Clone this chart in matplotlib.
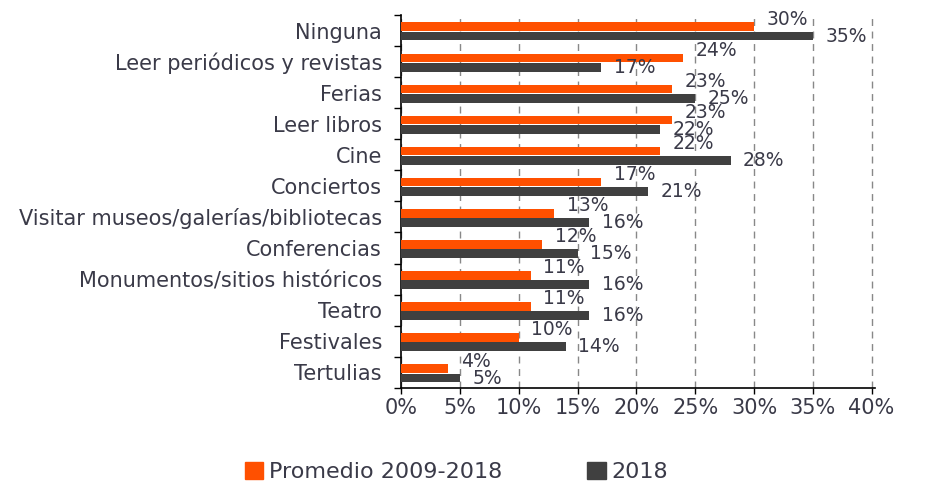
import numpy as np
import matplotlib
matplotlib.use("Agg")
import matplotlib.pyplot as plt
from matplotlib.patches import Patch

plt.rcParams['font.family'] = ['DejaVu Sans']

categorias = ["Ninguna", "Leer periódicos y revistas", "Ferias", "Leer libros", "Cine",
              "Conciertos", "Visitar museos/galerías/bibliotecas", "Conferencias",
              "Monumentos/sitios históricos", "Teatro", "Festivales", "Tertulias"]
promedio = [30, 24, 23, 23, 22, 17, 13, 12, 11, 11, 10, 4]
anio_2018 = [35, 17, 25, 22, 28, 21, 16, 15, 16, 16, 14, 5]
xticks = [0, 5, 10, 15, 20, 25, 30, 35, 40]

naranja = "#FF5000"
gris = "#404040"
texto = "#3a3a48"

fig = plt.figure(figsize=(9.29, 4.83), dpi=100)
ax = fig.add_axes([0.432, 0.197, 0.51, 0.772])

n = len(categorias)
y = np.arange(n)
h = 0.28
ax.barh(y - h / 2 + 0.02, promedio, height=h, color=naranja, zorder=3)
ax.barh(y + h / 2 + 0.04, anio_2018, height=h, color=gris, zorder=3)

for i in range(n):
    ax.annotate(f"{promedio[i]}%", (promedio[i], y[i] - h / 2), xytext=(9, 5),
                textcoords="offset points", va="center", ha="left",
                fontsize=13.5, color=texto, zorder=4)
    ax.annotate(f"{anio_2018[i]}%", (anio_2018[i], y[i] + h / 2), xytext=(9, -1),
                textcoords="offset points", va="center", ha="left",
                fontsize=13.5, color=texto, zorder=4)

ax.set_ylim(n - 0.5, -0.5)
ax.set_xlim(0, 40.3)
ax.set_yticks(y)
ax.set_yticklabels(categorias, fontsize=15, color=texto)
ax.set_yticks(np.arange(n + 1) - 0.5, minor=True)
ax.tick_params(axis="y", which="major", length=0, pad=14)
ax.tick_params(axis="y", which="minor", length=5, width=1, direction="out")
ax.set_xticks(xticks)
ax.set_xticklabels([f"{v}%" for v in xticks], fontsize=15, color=texto)
ax.tick_params(axis="x", length=4, width=1, direction="out", pad=3)

ax.grid(axis="x", linestyle=(0, (5, 4)), color="#888888", linewidth=1, zorder=0)
for s in ["top", "right"]:
    ax.spines[s].set_visible(False)
ax.spines["left"].set_linewidth(1.2)
ax.spines["bottom"].set_linewidth(1.2)

handles = [Patch(color=naranja, label="Promedio 2009-2018"), Patch(color=gris, label="2018")]
fig.legend(handles=handles, loc="lower center", bbox_to_anchor=(0.491, -0.04), ncol=2,
           frameon=False, fontsize=16, handlelength=0.85, handleheight=0.8,
           columnspacing=3.8, handletextpad=0.25, labelcolor=texto)

fig.savefig("out.png", dpi=100)
